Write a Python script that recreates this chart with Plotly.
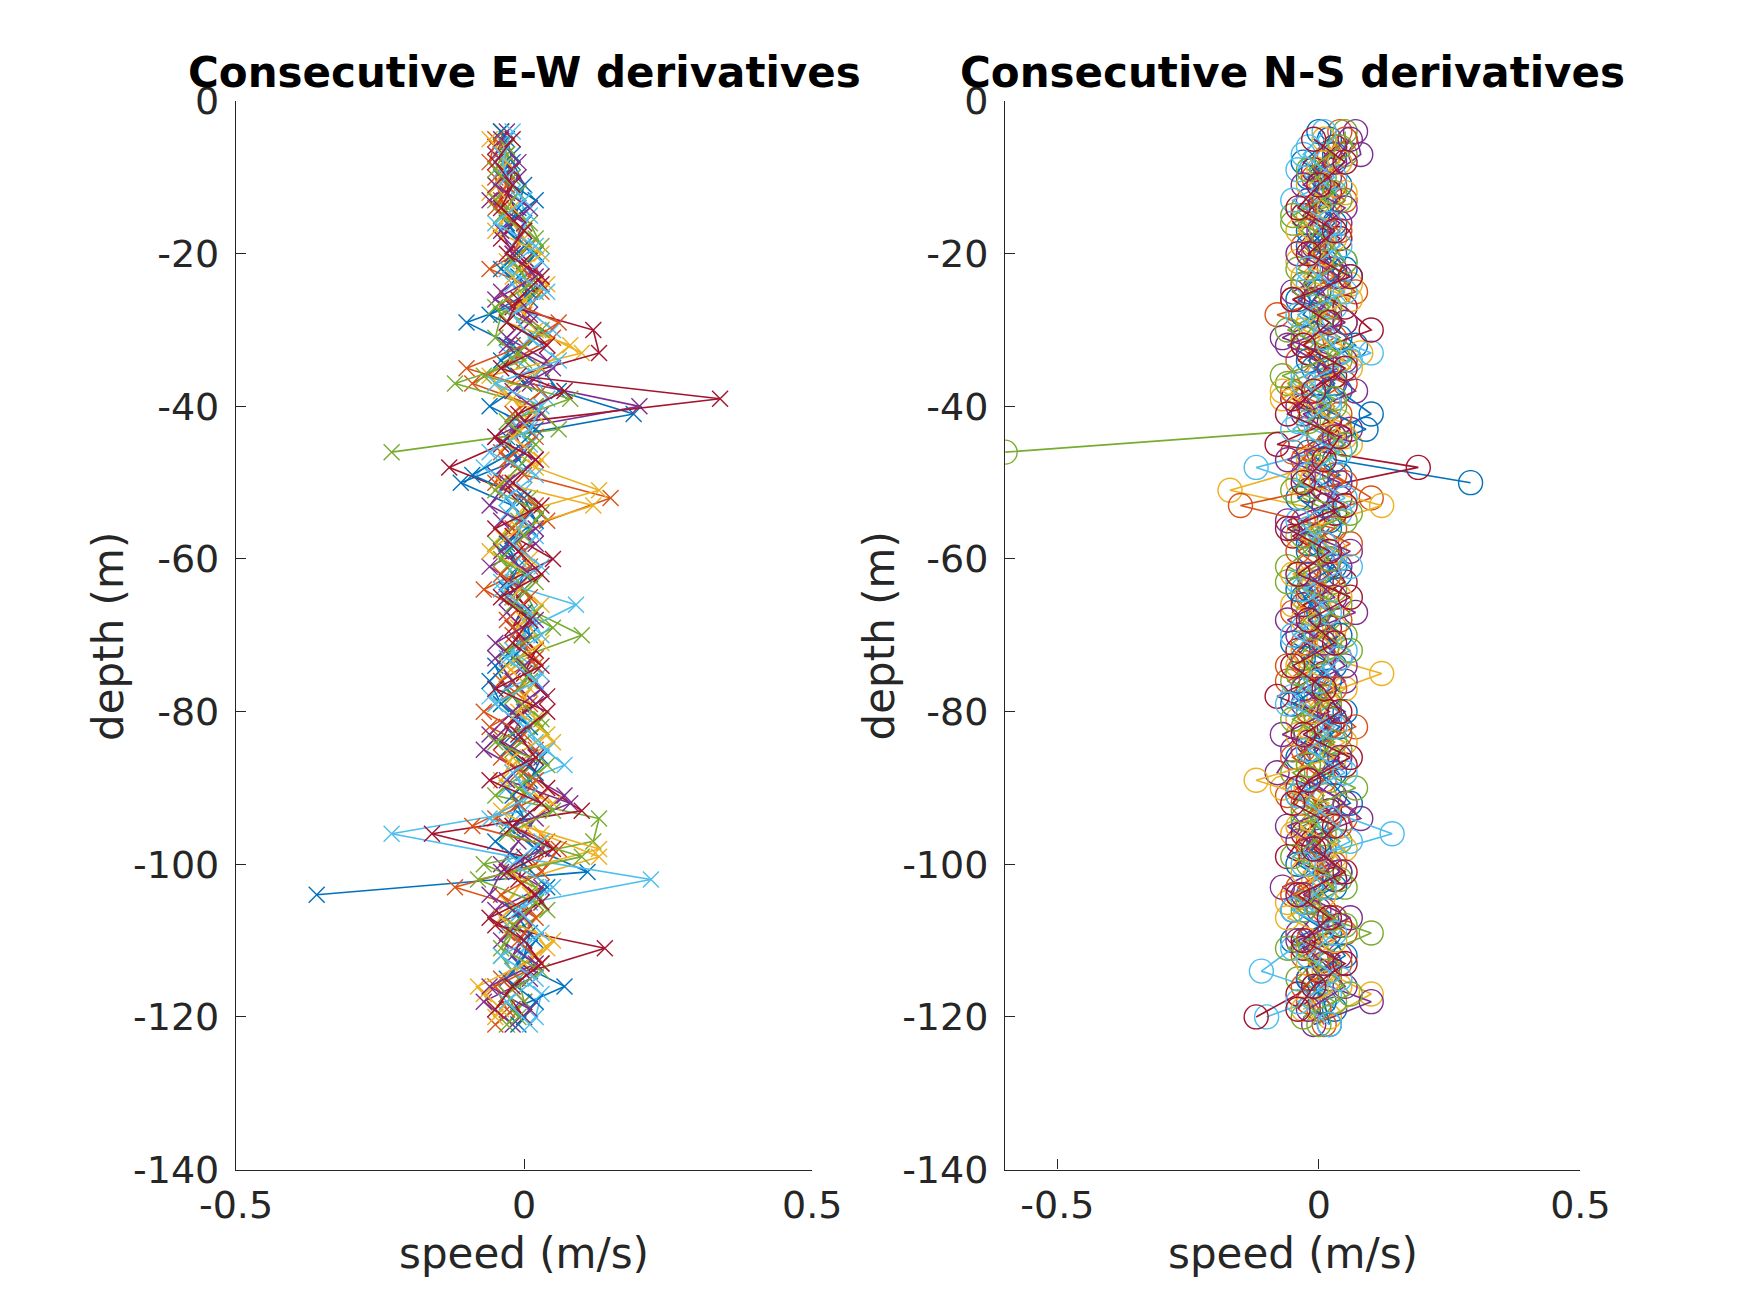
import plotly.graph_objects as go

## depth levels (m) - three interleaved sets of profiles
depth_a = [-4, -7, -10, -13, -16, -19, -22, -25, -28, -31, -34, -37, -40, -43, -46, -49, -52, -55, -58, -61,
           -64, -67, -70, -73, -76, -79, -82, -85, -88, -91, -94, -97, -100, -103, -106, -109, -112, -115, -118, -121]
depth_b = [-5, -8, -11, -14, -17, -20, -23, -26, -29, -32, -35, -38, -41, -44, -47, -50, -53, -56, -59, -62,
           -65, -68, -71, -74, -77, -80, -83, -86, -89, -92, -95, -98, -101, -104, -107, -110, -113, -116, -119]
depth_c = [-6, -9, -12, -15, -18, -21, -24, -27, -30, -33, -36, -39, -42, -45, -48, -51, -54, -57, -60, -63,
           -66, -69, -72, -75, -78, -81, -84, -87, -90, -93, -96, -99, -102, -105, -108, -111, -114, -117, -120]

## E-W derivatives (m/s)
ew_0 = [-0.03, -0.02, 0.00, -0.01, -0.03, 0.02, -0.01, 0.01, -0.10, -0.02,
        0.03, 0.06, 0.19, -0.03, -0.01, -0.11, -0.02, 0.01, -0.03, 0.00,
        -0.02, 0.01, -0.01, -0.05, -0.03, 0.00, -0.02, 0.03, 0.01, -0.01,
        -0.03, 0.02, 0.11, -0.36, None, 0.02, -0.01, 0.07, -0.02]
ew_1 = [-0.04, -0.03, -0.05, -0.04, -0.02, 0.01, -0.06, 0.03, 0.00, 0.05,
        -0.02, -0.09, 0.02, -0.01, -0.04, 0.00, 0.15, 0.04, -0.02, 0.01,
        -0.07, 0.00, -0.02, 0.02, -0.04, 0.01, -0.06, 0.02, -0.01, 0.03,
        -0.05, 0.04, 0.02, -0.12, 0.01, -0.03, 0.02, -0.04, 0.00, -0.05]
ew_2 = [-0.04, -0.02, -0.06, -0.03, 0.00, -0.03, 0.04, -0.01, 0.02, 0.10,
        -0.06, -0.02, 0.01, -0.03, 0.02, 0.13, -0.01, -0.04, 0.01, -0.02,
        0.03, -0.01, 0.02, -0.03, 0.00, 0.02, 0.05, -0.02, 0.01, -0.04,
        0.03, 0.13, 0.00, -0.03, 0.01, 0.04, -0.02, -0.07, -0.05]
ew_3 = [-0.03, -0.05, -0.01, -0.06, 0.00, -0.02, 0.02, -0.04, 0.01, -0.03,
        0.04, 0.01, 0.20, -0.02, 0.00, -0.05, -0.01, -0.04, 0.02, -0.06,
        0.00, -0.03, 0.01, -0.05, -0.02, 0.02, -0.03, -0.07, 0.00, 0.07,
        0.02, -0.01, -0.04, 0.03, -0.05, 0.00, -0.02, 0.01, -0.07, -0.02]
ew_4 = [-0.04, -0.03, -0.02, -0.05, 0.01, 0.03, -0.01, 0.02, -0.04, -0.05,
        0.00, -0.12, 0.02, 0.06, -0.23, None, 0.01, -0.01, -0.05, -0.03,
        0.00, 0.02, 0.10, -0.01, 0.01, -0.04, 0.03, -0.02, 0.00, -0.05,
        0.13, 0.12, -0.07, 0.02, 0.04, -0.02, -0.04, -0.01, 0.00, -0.03]
ew_5 = [-0.03, -0.04, -0.02, 0.01, -0.01, 0.03, -0.02, 0.00, 0.05, -0.03,
        0.02, 0.04, -0.02, 0.01, -0.07, 0.00, -0.03, 0.02, -0.01, -0.04,
        0.09, 0.01, -0.02, 0.03, -0.06, 0.00, 0.02, 0.07, -0.03, 0.00,
        -0.23, -0.02, 0.22, 0.01, -0.03, 0.00, -0.02, 0.03, 0.02]
ew_6 = [-0.05, -0.02, -0.03, -0.01, -0.04, 0.00, 0.03, -0.02, 0.12, 0.13,
        -0.01, 0.34, 0.00, -0.04, -0.13, -0.03, 0.01, -0.02, 0.05, -0.03,
        0.00, -0.02, 0.02, 0.00, 0.04, -0.02, -0.04, 0.01, 0.04, 0.10,
        -0.16, 0.00, -0.01, 0.03, -0.05, 0.14, 0.01, -0.03, 0.00]
ew_7 = [-0.04, -0.02, -0.04, 0.02, -0.03, 0.00, -0.04, 0.01, -0.06, 0.02,
        -0.04, 0.00, -0.06, 0.02, -0.02, -0.09, 0.00, 0.02, -0.03, -0.01,
        -0.03, 0.00, 0.01, -0.02, -0.06, -0.04, 0.01, -0.03, 0.02, -0.02,
        0.00, -0.05, 0.00, 0.04, -0.02, 0.01, 0.00, -0.03, 0.02, -0.01]
ew_8 = [-0.05, -0.06, -0.03, -0.05, 0.00, -0.02, 0.01, -0.03, 0.06, 0.00,
        -0.10, 0.03, -0.02, 0.02, -0.03, -0.05, 0.02, -0.02, 0.00, -0.04,
        0.01, -0.03, 0.00, 0.02, -0.01, -0.07, 0.00, -0.04, 0.02, -0.01,
        -0.09, 0.06, 0.03, -0.04, 0.02, -0.01, 0.03, -0.05, -0.03]
ew_9 = [-0.06, -0.03, -0.05, -0.02, -0.05, 0.03, -0.02, 0.00, -0.03, 0.08,
        0.03, -0.04, 0.02, -0.02, 0.03, -0.04, 0.12, -0.01, -0.06, 0.01,
        -0.02, 0.00, 0.03, -0.03, 0.01, -0.01, 0.04, -0.02, -0.04, 0.05,
        0.00, 0.13, -0.02, 0.01, -0.04, 0.05, 0.00, -0.08, -0.04]
ew_10 = [-0.04, -0.01, -0.05, 0.01, -0.04, -0.02, 0.02, -0.05, 0.01, -0.03,
         0.05, -0.02, 0.03, -0.05, 0.02, -0.03, -0.06, 0.02, -0.04, 0.01,
         -0.03, 0.02, -0.05, 0.00, 0.03, -0.02, -0.06, 0.01, -0.03, 0.08,
         -0.02, 0.03, -0.04, -0.06, 0.00, -0.04, 0.02, -0.06, 0.01]
ew_11 = [-0.03, -0.05, -0.01, -0.04, 0.02, -0.02, 0.01, -0.05, 0.03, -0.01,
         -0.07, 0.08, -0.03, 0.02, -0.01, -0.05, 0.03, 0.00, -0.04, 0.02,
         -0.02, 0.05, -0.03, 0.01, -0.02, 0.03, -0.05, 0.04, -0.01, 0.05,
         -0.03, 0.10, -0.08, 0.02, -0.02, -0.04, 0.03, -0.03, -0.01]
ew_12 = [-0.02, -0.04, -0.03, 0.00, -0.05, 0.02, -0.03, 0.04, -0.02, 0.01,
         0.06, -0.05, 0.03, 0.01, -0.06, 0.02, -0.03, 0.00, -0.02, 0.03,
         -0.04, 0.01, 0.03, -0.03, 0.02, -0.05, 0.00, 0.04, -0.02, 0.01,
         -0.06, 0.03, -0.02, 0.05, -0.01, 0.03, -0.04, 0.02, -0.03, 0.01]
ew_13 = [-0.02, -0.05, -0.02, -0.04, 0.00, -0.03, 0.03, -0.01, -0.03, 0.04,
         -0.04, 0.07, -0.01, -0.05, 0.02, -0.02, 0.03, -0.05, -0.01, 0.03,
         -0.04, 0.01, -0.02, 0.03, -0.05, 0.04, -0.01, 0.02, -0.06, 0.03,
         -0.02, 0.05, -0.03, 0.02, -0.06, 0.00, 0.03, -0.02, -0.05]

## N-S derivatives (m/s)
ns_0 = [0.02, -0.03, 0.04, 0.00, -0.02, 0.03, 0.06, -0.04, 0.02, 0.07,
        -0.01, 0.04, 0.10, 0.00, 0.03, 0.29, None, 0.02, -0.02, 0.04,
        -0.03, 0.01, -0.05, 0.03, -0.02, 0.05, 0.00, -0.04, 0.02, 0.06,
        -0.03, 0.01, 0.04, -0.02, 0.03, -0.05, 0.02, -0.01, 0.03]
ns_1 = [0.04, 0.02, -0.01, 0.05, 0.01, -0.03, 0.02, 0.07, -0.08, 0.03,
        -0.04, 0.05, -0.02, 0.04, -0.05, 0.03, 0.10, -0.03, 0.06, -0.02,
        0.02, -0.05, 0.01, 0.04, -0.06, 0.02, 0.07, -0.03, 0.00, -0.06,
        0.05, -0.02, 0.03, -0.04, 0.01, 0.05, -0.03, 0.02, -0.02, 0.01]
ns_2 = [0.03, 0.00, 0.05, -0.02, 0.03, -0.04, 0.06, 0.01, -0.03, 0.08,
        0.00, -0.07, 0.04, 0.06, -0.02, -0.17, 0.03, -0.04, 0.02, -0.01,
        -0.05, 0.03, -0.03, 0.12, 0.00, -0.04, 0.05, -0.02, -0.07, 0.02,
        -0.05, 0.03, -0.01, -0.06, 0.04, -0.02, 0.01, 0.10, 0.02]
ns_3 = [0.07, 0.08, 0.02, -0.02, 0.04, -0.01, 0.03, -0.05, 0.02, -0.07,
        0.05, 0.00, -0.04, 0.06, 0.00, -0.03, 0.04, -0.06, 0.01, 0.04,
        -0.02, 0.07, -0.04, 0.01, 0.05, -0.03, 0.02, -0.05, -0.08, 0.03,
        0.08, -0.04, 0.02, -0.07, 0.00, -0.04, 0.04, -0.02, 0.10, -0.01]
ns_4 = [0.05, 0.05, 0.01, 0.04, -0.05, 0.00, -0.04, 0.04, 0.01, -0.03,
        0.04, -0.06, 0.03, 0.00, -0.60, None, -0.03, 0.05, -0.01, -0.06,
        0.03, -0.02, 0.05, -0.01, -0.05, 0.02, -0.03, 0.04, -0.05, 0.01,
        -0.03, 0.04, -0.02, 0.05, -0.03, 0.10, 0.00, -0.04, 0.03, 0.00]
ns_5 = [-0.02, -0.04, 0.01, -0.03, 0.02, 0.05, -0.02, 0.03, -0.01, 0.10,
        -0.03, 0.02, -0.04, 0.05, -0.12, 0.01, 0.04, -0.02, 0.03, -0.04,
        0.01, -0.03, 0.05, -0.01, -0.05, 0.02, -0.02, 0.04, -0.03, 0.02,
        0.14, -0.01, 0.03, -0.03, 0.02, -0.05, -0.11, 0.02, -0.10]
ns_6 = [0.03, -0.01, 0.02, -0.03, 0.04, 0.00, -0.03, 0.05, 0.10, -0.02,
        0.03, -0.05, 0.02, -0.08, 0.19, -0.02, 0.03, -0.05, 0.02, 0.05,
        -0.03, 0.02, -0.04, 0.01, -0.08, 0.03, -0.02, 0.05, -0.04, 0.02,
        -0.03, -0.06, 0.03, -0.02, 0.04, -0.03, 0.00, -0.04, -0.12]
ns_7 = [0.00, 0.03, -0.02, 0.01, 0.03, -0.02, 0.05, 0.00, -0.03, 0.04,
        -0.02, 0.03, 0.00, 0.09, -0.02, 0.04, -0.04, 0.02, -0.02, 0.03,
        -0.04, 0.00, 0.04, -0.03, 0.02, -0.05, 0.04, -0.01, 0.03, -0.04,
        0.02, 0.00, -0.04, 0.03, -0.05, 0.02, 0.05, -0.02, 0.01, 0.02]
ns_8 = [0.05, 0.01, 0.03, -0.03, 0.04, -0.01, 0.03, -0.05, 0.05, -0.03,
        0.02, -0.05, 0.04, 0.00, -0.03, 0.05, -0.15, 0.03, -0.04, 0.02,
        -0.02, 0.04, -0.03, -0.06, 0.03, -0.02, 0.04, -0.05, 0.01, -0.03,
        0.04, -0.02, 0.02, -0.05, 0.03, -0.02, 0.04, -0.03, 0.00]
ns_9 = [0.01, 0.04, -0.02, 0.02, -0.04, 0.01, -0.03, 0.06, -0.02, 0.02,
        0.06, -0.07, 0.01, 0.05, -0.02, -0.04, 0.12, -0.02, 0.03, -0.05,
        0.04, -0.03, 0.02, -0.04, 0.05, -0.01, -0.04, 0.03, -0.12, 0.02,
        -0.04, 0.05, -0.03, 0.01, -0.06, 0.03, -0.02, 0.04, -0.03]
ns_10 = [0.06, 0.03, -0.03, 0.05, 0.00, -0.04, 0.04, -0.01, 0.05, -0.06,
         0.02, 0.07, -0.03, 0.03, -0.06, 0.04, 0.01, -0.05, 0.06, -0.02,
         0.03, -0.06, 0.01, 0.05, -0.03, 0.02, -0.07, 0.04, -0.02, 0.05,
         -0.06, 0.00, 0.04, -0.03, 0.06, -0.04, 0.01, 0.05, -0.02]
ns_11 = [0.04, -0.02, 0.03, -0.05, 0.01, 0.05, -0.03, 0.02, -0.06, 0.04,
         -0.07, 0.03, -0.02, 0.05, 0.00, -0.05, 0.06, -0.03, 0.02, -0.06,
         0.04, -0.01, 0.06, -0.04, 0.02, -0.05, 0.03, -0.02, 0.07, -0.03,
         0.01, -0.05, 0.04, -0.02, 0.05, -0.06, 0.02, 0.06, -0.03]
ns_12 = [0.01, -0.03, 0.03, -0.05, 0.02, 0.04, -0.02, 0.05, -0.04, 0.01,
         0.06, -0.03, 0.02, -0.05, 0.04, -0.02, 0.05, -0.04, 0.01, 0.06,
         -0.03, 0.02, -0.05, 0.04, 0.00, -0.06, 0.03, -0.02, 0.05, -0.04,
         0.02, 0.06, -0.03, 0.01, -0.05, 0.03, -0.02, 0.04, -0.04, 0.02]
ns_13 = [-0.01, 0.05, 0.00, -0.04, 0.03, -0.02, 0.06, -0.05, 0.02, -0.03,
         0.05, -0.01, -0.06, 0.04, 0.01, -0.03, 0.05, -0.06, 0.02, -0.04,
         0.06, -0.02, 0.03, -0.05, 0.01, 0.04, -0.03, 0.06, -0.02, -0.05,
         0.03, -0.01, 0.05, -0.04, 0.02, -0.03, 0.05, -0.01, -0.04]

## axis ticks
x_ticks = [-0.5, 0, 0.5]
x_labels = ["-0.5", "0", "0.5"]
y_ticks = [-140, -120, -100, -80, -60, -40, -20, 0]
y_labels = ["-140", "-120", "-100", "-80", "-60", "-40", "-20", "0"]

## matlab default colour order
colorList = ["#0072BD", "#D95319", "#EDB120", "#7E2F8E", "#77AC30", "#4DBEEE", "#A2142F"]

ew_series = [(depth_b, ew_0), (depth_a, ew_1), (depth_c, ew_2), (depth_a, ew_3), (depth_a, ew_4),
             (depth_c, ew_5), (depth_c, ew_6), (depth_a, ew_7), (depth_b, ew_8), (depth_b, ew_9),
             (depth_b, ew_10), (depth_c, ew_11), (depth_a, ew_12), (depth_b, ew_13)]
ns_series = [(depth_b, ns_0), (depth_a, ns_1), (depth_c, ns_2), (depth_a, ns_3), (depth_a, ns_4),
             (depth_c, ns_5), (depth_c, ns_6), (depth_a, ns_7), (depth_b, ns_8), (depth_b, ns_9),
             (depth_b, ns_10), (depth_c, ns_11), (depth_a, ns_12), (depth_b, ns_13)]

axcol = "#262626"
font = "DejaVu Sans"

fig = go.Figure()

for i, (d, v) in enumerate(ew_series):
    c = colorList[i % 7]
    fig.add_trace(go.Scatter(x=v, y=d, mode="lines+markers", xaxis="x", yaxis="y",
                             line=dict(color=c, width=1.6),
                             marker=dict(symbol="x-thin", size=16, color=c, line=dict(color=c, width=1.4)),
                             showlegend=False))

for i, (d, v) in enumerate(ns_series):
    c = colorList[i % 7]
    fig.add_trace(go.Scatter(x=v, y=d, mode="lines+markers", xaxis="x2", yaxis="y2",
                             line=dict(color=c, width=1.6),
                             marker=dict(symbol="circle-open", size=24, color=c, line=dict(color=c, width=1.4)),
                             showlegend=False))

def xax(dom, rng, anchor):
    return dict(domain=dom, range=rng, anchor=anchor, tickvals=x_ticks, ticktext=x_labels,
                showline=True, linecolor=axcol, linewidth=1.3, ticks="inside", ticklen=10,
                tickwidth=1.3, tickcolor=axcol, showgrid=False, zeroline=False,
                ticklabelstandoff=2, tickfont=dict(family=font, size=38, color=axcol))

def yax(anchor):
    return dict(domain=[0.102, 0.944], range=[-140, 0], anchor=anchor, tickvals=y_ticks, ticktext=y_labels,
                showline=True, linecolor=axcol, linewidth=1.3, ticks="inside", ticklen=10,
                tickwidth=1.3, tickcolor=axcol, showgrid=False, zeroline=False,
                ticklabelstandoff=8, tickfont=dict(family=font, size=38, color=axcol))

left = [0.1135, 0.4559]
right = [0.5705, 0.9123]

fig.update_layout(
    width=1750, height=1313,
    margin=dict(l=0, r=0, t=0, b=0),
    paper_bgcolor="white", plot_bgcolor="white",
    xaxis=xax(left, [-0.5, 0.5], "y"),
    yaxis=yax("x"),
    xaxis2=xax(right, [-0.6, 0.5], "y2"),
    yaxis2=yax("x2"),
)

## titles and axis labels
for dom, title in [(left, "Consecutive E-W derivatives"), (right, "Consecutive N-S derivatives")]:
    mid = (dom[0] + dom[1]) / 2
    fig.add_annotation(text="<b>%s</b>" % title, x=mid, y=0.9665, xref="paper", yref="paper",
                       showarrow=False, xanchor="center", yanchor="middle",
                       font=dict(family=font, size=42, color="black"))
    fig.add_annotation(text="speed (m/s)", x=mid, y=0.0361, xref="paper", yref="paper",
                       showarrow=False, xanchor="center", yanchor="middle",
                       font=dict(family=font, size=42, color=axcol))

for xpos in [0.0373, 0.4957]:
    fig.add_annotation(text="depth (m)", x=xpos, y=0.5223, xref="paper", yref="paper",
                       showarrow=False, textangle=-90, xanchor="center", yanchor="middle",
                       font=dict(family=font, size=42, color=axcol))

fig.write_html("out.html")
